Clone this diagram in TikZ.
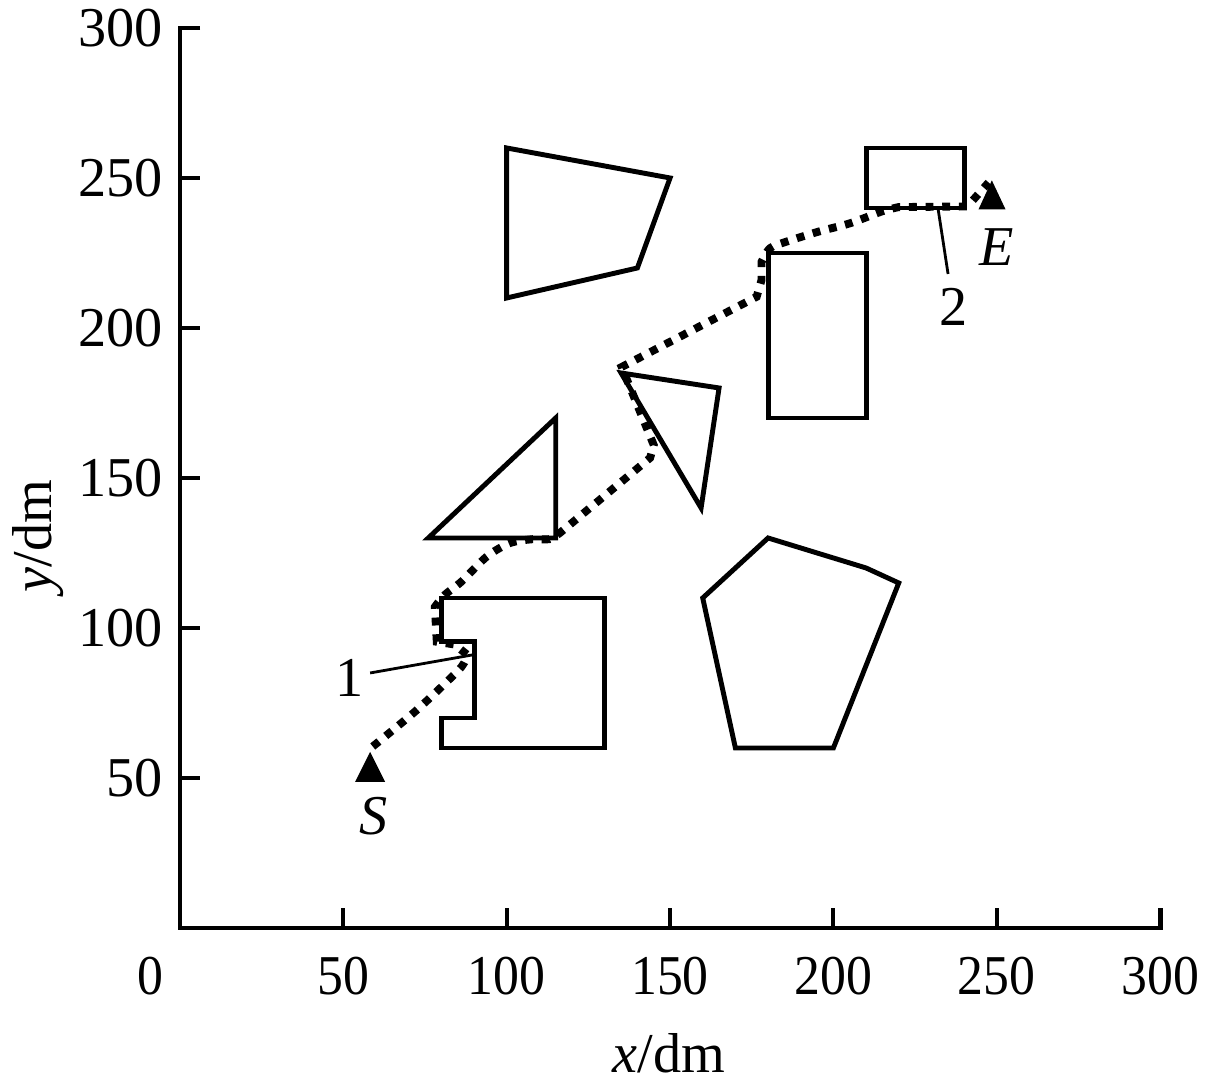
\documentclass[tikz,border=0pt]{standalone}
\usepackage{fontspec}
\setmainfont{Liberation Serif}
\begin{document}
\begin{tikzpicture}[x=0.06534cm,y=0.06cm,
  obst/.style={line width=2.8pt,line join=miter},
  axisline/.style={line width=2.8pt},
  tickline/.style={line width=2.3pt},
  route/.style={line width=4.5pt,dash pattern=on 4.5pt off 5pt,line join=miter},
  leader/.style={line width=1.6pt},
  lbl/.style={font=\fontsize{32}{38}\selectfont,inner sep=0pt},
  marker/.style={fill=black,draw=none}]
\useasboundingbox (-55.1,-54.33) rectangle (314.05,309.33);
% axes
\draw[axisline] (6.12,300) -- (0,300) -- (0,0) -- (300,0) -- (300,6.67);
\foreach \v in {50,100,150,200,250} {
  \draw[tickline] (\v,0) -- (\v,6.67);
  \draw[tickline] (0,\v) -- (6.12,\v);
}
\foreach \v in {50,100,150,200,250,300} {
  \node[lbl,anchor=east] (yl\v) at (-5.2,\v) {\v};
  \node[lbl] (xl\v) at (\v,-16) {\scalebox{0.92}[1]{\v}};
}
\node[lbl] (xl0) at (-9.2,-16) {\scalebox{0.92}[1]{0}};
\node[lbl] (xlab) at (149.7,-41.7) {\textit{x}/dm};
\node[lbl,rotate=90] (ylab) at (-43.5,130.7) {\textit{y}/dm};
% obstacles
\draw[obst] (100,260) -- (150,250) -- (140,220) -- (100,210) -- cycle;
\draw[obst] (210,240) rectangle (240,260);
\draw[obst] (180,170) rectangle (210,225);
\draw[obst] (135,185) -- (165,180) -- (159.5,140) -- cycle;
\draw[obst] (76,130) -- (115,130) -- (115,170) -- cycle;
\draw[obst] (160,110) -- (180,130) -- (210,120) -- (220,115) -- (200,60) -- (170,60) -- cycle;
\draw[obst] (80,110) -- (130,110) -- (130,60) -- (80,60) -- (80,70) -- (90,70) -- (90,95.5) -- (80,95.5) -- cycle;
% route
\draw[route] (59,60.5) -- plot[smooth] coordinates {(59,60.5) (63.3,64.3) (71.9,72.1) (79.6,79.9) (86.2,87.1) (88,91)}
  -- (84,94.5) -- (78.6,95.4) -- (78,107)
  -- plot[smooth] coordinates {(78,107) (81,111) (86.2,115.5) (93.9,123.8) (101,128.3) (108,129.6) (113,129.6) (116.3,131.7)}
  -- (143.9,156.7) -- (145,161) -- (135.2,187)
  -- (176.5,210.4) -- (178,216) -- (178,222)
  -- plot[smooth] coordinates {(178,222) (180.6,226.6) (185.7,228.8) (195.4,232.1) (205.1,234.9) (214.7,238.8) (220,240.3)}
  -- (241,240.5) -- (247.5,248.5);
% markers
\fill[marker] (53.6,48.7) -- (62.8,48.7) -- (58.2,58.7) -- cycle;
\fill[marker] (244.4,239.5) -- (252.7,239.5) -- (248.5,249.2) -- cycle;
\node[lbl] (S) at (59.1,37.3) {\textit{S}};
\node[lbl] (E) at (250.1,227) {\textit{E}};
% leaders
\node[lbl] (one) at (52,83.3) {1};
\node[lbl] (two) at (236.9,207) {2};
\coordinate (p1) at (89.4,91);
\coordinate (p2) at (232,240);
\draw[leader] (58.2,85) -- (p1);
\draw[leader] (235.1,218) -- (p2);
\end{tikzpicture}
\end{document}
